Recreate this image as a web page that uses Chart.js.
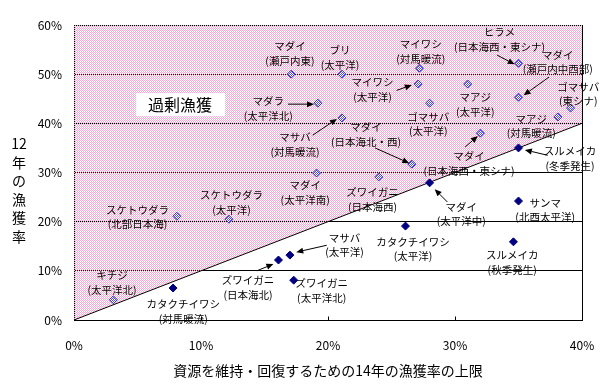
<!DOCTYPE html>
<html lang="ja">
  <head>
    <meta charset="UTF-8" />
    <title>漁獲率</title>
    <script src="https://cdn.jsdelivr.net/npm/chart.js"></script>
    <style>
      body { margin: 0; background: #fff; }
    </style>
  </head>
  <body>
    <canvas id="c" width="612" height="389"></canvas>
    <script>
      // 上限 (x) と 12年の漁獲率 (y), %
      const overNames = ["マダイ", "ブリ", "マイワシ", "ヒラメ", "マダイ", "マイワシ", "マダラ", "マサバ", "ゴマサバ", "マアジ", "ゴマサバ", "マアジ", "マダイ", "マダイ", "マダイ", "ズワイガニ", "スケトウダラ", "スケトウダラ", "キチジ"];
      const overX = [17.1, 21.1, 27.2, 35.0, 35.0, 27.1, 19.2, 21.1, 28.0, 31.0, 39.1, 38.1, 26.6, 32.0, 19.1, 24.0, 8.1, 12.2, 3.1];
      const overY = [50.0, 50.0, 51.2, 52.2, 45.3, 48.0, 44.1, 41.1, 44.1, 48.0, 43.1, 41.3, 31.7, 38.0, 29.9, 29.1, 21.1, 20.5, 4.1];

      const underNames = ["スルメイカ", "マダイ", "カタクチイワシ", "カタクチイワシ", "マサバ", "ズワイガニ", "ズワイガニ", "サンマ", "スルメイカ"];
      const underX = [35.0, 28.0, 7.8, 26.1, 17.0, 16.1, 17.3, 35.0, 34.6];
      const underY = [35.0, 27.9, 6.5, 19.1, 13.2, 12.2, 8.1, 24.2, 15.9];

      const lineX = [0, 40];
      const lineY = [0, 40];
      const xTicks = [0, 10, 20, 30, 40];
      const yTicks = [0, 10, 20, 30, 40, 50, 60];

      // ラベル配置 (データ座標, 1行目の中心)
      const notes = [
        [["マダイ", "(瀬戸内東)"], 17.0, 55.7],
        [["ブリ", "(太平洋)"], 20.95, 54.9],
        [["マイワシ", "(対馬暖流)"], 27.3, 56.1],
        [["ヒラメ", "(日本海西・東シナ)"], 33.5, 58.5],
        [["マダイ", "(瀬戸内中西部)"], 38.1, 53.9],
        [["マイワシ", "(太平洋)"], 23.5, 48.4],
        [["マダラ", "(太平洋北)"], 15.3, 44.5],
        [["マサバ", "(対馬暖流)"], 17.4, 37.2],
        [["マダイ", "(日本海北・西)"], 23.0, 39.2],
        [["ゴマサバ", "(太平洋)"], 27.9, 41.3],
        [["マアジ", "(太平洋)"], 31.6, 45.3],
        [["ゴマサバ", "(東シナ)"], 39.7, 47.4],
        [["マアジ", "(対馬暖流)"], 36.0, 40.9],
        [["マダイ", "(日本海西・東シナ)"], 31.1, 33.3],
        [["スルメイカ", "(冬季発生)"], 39.05, 34.3],
        [["マダイ", "(太平洋南)"], 18.2, 27.4],
        [["ズワイガニ", "(日本海西)"], 23.5, 26.0],
        [["スケトウダラ", "(北部日本海)"], 5.0, 22.4],
        [["スケトウダラ", "(太平洋)"], 12.4, 25.4],
        [["キチジ", "(太平洋北)"], 3.0, 9.1],
        [["カタクチイワシ", "(対馬暖流)"], 8.6, 3.25],
        [["マダイ", "(太平洋中)"], 30.5, 23.0],
        [["カタクチイワシ", "(太平洋)"], 26.7, 15.9],
        [["マサバ", "(太平洋)"], 21.3, 16.7],
        [["ズワイガニ", "(日本海北)"], 13.7, 8.1],
        [["ズワイガニ", "(太平洋北)"], 19.5, 7.5],
        [["サンマ", "(北西太平洋)"], 37.1, 23.8],
        [["スルメイカ", "(秋季発生)"], 34.5, 13.2],
      ];
      const arrows = [
        [33.3, 53.9, 34.7, 52.0],
        [37.4, 49.4, 35.4, 45.7],
        [25.4, 46.7, 26.6, 47.8],
        [16.85, 43.9, 18.9, 43.9],
        [18.8, 37.6, 20.7, 40.9],
        [23.7, 35.0, 26.4, 31.9],
        [30.8, 35.2, 31.8, 37.4],
        [37.3, 33.5, 35.5, 34.6],
        [29.4, 24.0, 28.4, 26.6],
        [19.9, 15.2, 17.5, 13.8],
        [14.4, 10.0, 15.7, 11.4],
      ];

      const FONT = "'Noto Sans CJK JP', 'Noto Sans', sans-serif";
      const canvas = document.getElementById("c");
      const ctx0 = canvas.getContext("2d");

      function checker(c1, c2) {
        const p = document.createElement("canvas");
        p.width = p.height = 2;
        const g = p.getContext("2d");
        if (c2) {
          g.fillStyle = c2;
          g.fillRect(0, 0, 2, 2);
        }
        g.fillStyle = c1;
        g.fillRect(0, 0, 1, 1);
        g.fillRect(1, 1, 1, 1);
        return ctx0.createPattern(p, "repeat");
      }
      const pinkDots = checker("#ffa6d2");
      const blueDots = checker("#4d4dff", "#ffffff");

      function drawArrow(ctx, x1, y1, x2, y2) {
        const a = Math.atan2(y2 - y1, x2 - x1);
        const h = 7, w = 3;
        const c = Math.cos(a), s = Math.sin(a);
        ctx.beginPath();
        ctx.moveTo(x1, y1);
        ctx.lineTo(x2 - h * c, y2 - h * s);
        ctx.stroke();
        ctx.beginPath();
        ctx.moveTo(x2, y2);
        ctx.lineTo(x2 - h * c + w * s, y2 - h * s - w * c);
        ctx.lineTo(x2 - h * c - w * s, y2 - h * s + w * c);
        ctx.closePath();
        ctx.fill();
      }

      const overlay = {
        id: "overlay",
        beforeDatasetsDraw(chart) {
          const { ctx, chartArea: a } = chart;
          ctx.save();
          ctx.strokeStyle = "#000";
          ctx.lineWidth = 1;
          ctx.strokeRect(Math.round(a.left) + 0.5, Math.round(a.top) + 0.5,
            Math.round(a.right - a.left), Math.round(a.bottom - a.top));
          ctx.restore();
        },
        afterDatasetsDraw(chart) {
          const { ctx, chartArea: a } = chart;
          const xs = chart.scales.x, ys = chart.scales.y;
          const X = (v) => xs.getPixelForValue(v);
          const Y = (v) => ys.getPixelForValue(v);
          ctx.save();
          ctx.strokeStyle = "#000";
          ctx.fillStyle = "#000";
          ctx.lineWidth = 1;
          // 右と下の枠
          const r = Math.round(a.right) + 0.5, b = Math.round(a.bottom) + 0.5;
          ctx.beginPath();
          ctx.moveTo(r, Math.round(a.top));
          ctx.lineTo(r, b);
          ctx.lineTo(Math.round(a.left), b);
          ctx.stroke();
          // 内向き目盛
          xTicks.slice(1, -1).forEach((v) => {
            const px = Math.round(X(v)) + 0.5;
            ctx.beginPath();
            ctx.moveTo(px, b);
            ctx.lineTo(px, b - 4);
            ctx.stroke();
          });
          // 矢印
          arrows.forEach(([x1, y1, x2, y2]) => drawArrow(ctx, X(x1), Y(y1), X(x2), Y(y2)));
          // ラベル
          ctx.font = "10.5px " + FONT;
          ctx.textAlign = "center";
          ctx.textBaseline = "middle";
          notes.forEach(([lines, x, y]) => {
            lines.forEach((t, i) => ctx.fillText(t, X(x), Y(y) + i * 14.5));
          });
          // 過剰漁獲
          const cx = X(8.35), cy = Y(43.9);
          ctx.fillStyle = "#fff";
          ctx.fillRect(cx - 44, cy - 11, 89, 23);
          ctx.fillStyle = "#000";
          ctx.font = "16px " + FONT;
          ctx.fillText("過剰漁獲", cx, cy + 1);
          // 縦軸タイトル
          ctx.font = "14px " + FONT;
          ["12", "年", "の", "漁", "獲", "率"].forEach((t, i) => ctx.fillText(t, 19, 144 + i * 18.5));
          ctx.restore();
        },
      };

      new Chart(canvas, {
        type: "scatter",
        data: {
          datasets: [
            {
              data: overX.map((x, i) => ({ x, y: overY[i] })),
              pointStyle: "rectRot",
              pointRadius: 4,
              backgroundColor: blueDots,
              borderColor: "#3333aa",
              borderWidth: 1,
              order: 1,
            },
            {
              data: underX.map((x, i) => ({ x, y: underY[i] })),
              pointStyle: "rectRot",
              pointRadius: 4,
              backgroundColor: "#000080",
              borderColor: "#000080",
              borderWidth: 1,
              order: 0,
            },
            {
              type: "line",
              data: lineX.map((x, i) => ({ x, y: lineY[i] })),
              borderColor: "#000",
              borderWidth: 1,
              backgroundColor: pinkDots,
              fill: "end",
              pointRadius: 0,
              order: 10,
            },
          ],
        },
        options: {
          responsive: false,
          animation: false,
          events: [],
          layout: { padding: { top: 25, right: 30, left: 0, bottom: 0 } },
          plugins: { legend: { display: false }, tooltip: { enabled: false } },
          scales: {
            x: {
              type: "linear",
              min: 0,
              max: 40,
              afterFit: (s) => { s.height = 69; },
              afterBuildTicks: (s) => { s.ticks = xTicks.map((v) => ({ value: v })); },
              grid: { display: false },
              border: { display: false },
              ticks: {
                padding: 10,
                color: "#000",
                font: { family: FONT, size: 12 },
                callback: (v) => v + "%",
              },
              title: {
                display: true,
                text: "資源を維持・回復するための14年の漁獲率の上限",
                color: "#000",
                font: { family: FONT, size: 14 },
                padding: { top: 0, bottom: 10 },
              },
            },
            y: {
              type: "linear",
              min: 0,
              max: 60,
              afterFit: (s) => { s.width = 74; },
              afterBuildTicks: (s) => { s.ticks = yTicks.map((v) => ({ value: v })); },
              grid: { color: "#000", lineWidth: 1, drawTicks: false },
              border: { display: false },
              ticks: {
                padding: 12,
                color: "#000",
                font: { family: FONT, size: 12 },
                callback: (v) => v + "%",
              },
            },
          },
        },
        plugins: [overlay],
      });
    </script>
  </body>
</html>
